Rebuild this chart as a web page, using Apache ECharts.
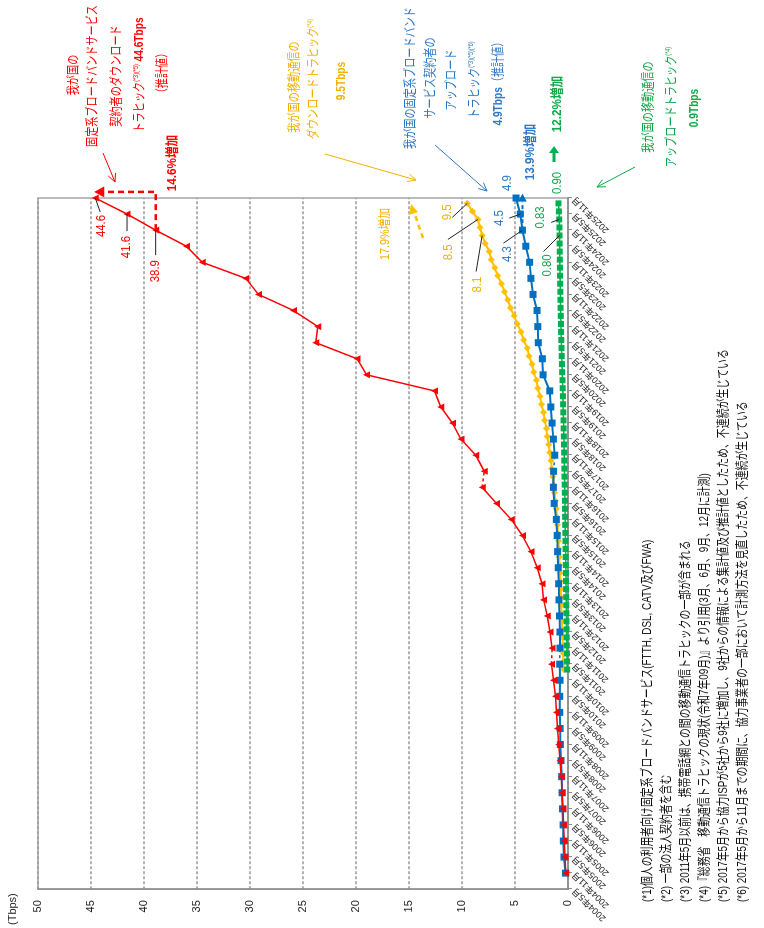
<!DOCTYPE html>
<html><head><meta charset="utf-8">
<script src="https://cdn.jsdelivr.net/npm/echarts@6/dist/echarts.min.js"></script>
<style>
html,body{margin:0;padding:0;background:#fff;overflow:hidden}
#frame{position:absolute;left:0;top:0;width:764px;height:928px;overflow:hidden;background:#fff}
#main{position:absolute;left:0;top:0;width:928px;height:764px;transform-origin:0 0;transform:translate(0,928px) rotate(-90deg)}
</style></head><body>
<div id="frame"><div id="main"></div></div>
<script>
// ---- data ----
const tickLabels = ['2004年5月','2004年11月','2005年5月','2005年11月','2006年5月','2006年11月','2007年5月','2007年11月','2008年5月','2008年11月','2009年5月','2009年11月','2010年5月','2010年11月','2011年5月','2011年11月','2012年5月','2012年11月','2013年5月','2013年11月','2014年5月','2014年11月','2015年5月','2015年11月','2016年5月','2016年11月','2017年5月','2017年11月','2018年5月','2018年11月','2019年5月','2019年11月','2020年5月','2020年11月','2021年5月','2021年11月','2022年5月','2022年11月','2023年5月','2023年11月','2024年5月','2024年11月','2025年5月','2025年11月'];
// fixed broadband, semiannual, 2004年11月 .. 2025年11月 (Tbps)
const fixedDownload = [0.22,0.28,0.36,0.42,0.48,0.56,0.64,0.76,0.87,0.98,
  1.08,1.18,1.36,1.56,1.50,1.70,1.95,2.30,2.45,2.90,
  3.50,4.30,5.35,6.75,8.10,7.90,8.70,10.10,10.90,12.00,
  12.60,19.00,19.90,23.80,23.60,25.90,29.20,30.40,34.50,36.00,
  38.90,41.60,44.60];
const fixedUpload = [0.24,0.38,0.44,0.46,0.52,0.56,0.60,0.66,0.72,0.74,
  0.78,0.78,0.75,0.78,0.76,0.76,0.80,0.85,0.88,0.92,
  0.98,1.02,1.10,1.30,1.38,1.36,1.25,1.38,1.50,1.62,
  1.72,2.35,2.42,2.80,2.85,2.92,3.30,3.50,3.62,3.98,
  4.30,4.50,4.90];
// discontinuities: first tick index of the new (dashed-joined) segment
const downloadBreaks = [15, 26];
const uploadBreaks = [15, 27];
// mobile, quarterly (3,6,9,12月), 2011年3月 .. 2025年9月 (Tbps)
const mobileDownload = [0.40,0.44,0.45,0.50,0.52,0.56,0.57,0.62,0.64,0.68,
  0.69,0.74,0.76,0.80,0.82,0.87,0.90,0.96,0.99,1.07,
  1.12,1.21,1.27,1.37,1.43,1.54,1.61,1.73,1.81,1.95,
  2.04,2.20,2.31,2.50,2.63,2.85,2.98,3.24,3.40,3.67,
  3.85,4.18,4.43,4.78,5.08,5.43,5.68,5.98,6.28,6.63,
  6.92,7.24,7.43,7.80,8.10,8.31,8.50,9.02,9.50];
const mobileUpload = [0.08,0.09,0.10,0.11,0.12,0.13,0.14,0.15,0.16,0.17,
  0.18,0.19,0.20,0.21,0.22,0.23,0.24,0.25,0.26,0.27,
  0.28,0.29,0.30,0.31,0.33,0.34,0.35,0.36,0.38,0.39,
  0.41,0.42,0.44,0.46,0.48,0.50,0.52,0.55,0.57,0.59,
  0.61,0.63,0.65,0.66,0.68,0.70,0.71,0.72,0.74,0.75,
  0.76,0.77,0.78,0.79,0.80,0.81,0.83,0.86,0.90];
const mobileStart = {year: 2011, month: 3};
const footnotes = [
  '(*1)個人の利用者向け固定系ブロードバンドサービス(FTTH, DSL, CATV及びFWA)',
  '(*2) 一部の法人契約者を含む',
  '(*3) 2011年5月以前は、携帯電話網との間の移動通信トラヒックの一部が含まれる',
  '(*4)『総務省　移動通信トラヒックの現状(令和7年09月)』より引用(3月、6月、9月、12月に計測)',
  '(*5) 2017年5月から協力ISPが5社から9社に増加し、9社からの情報による集計値及び推計値としたため、不連続が生じている',
  '(*6) 2017年5月から11月までの期間に、協力事業者の一部において計測方法を見直したため、不連続が生じている'
];

// ---- chart ----
const RED='#FF0000', YEL='#FFC000', YELT='#F2B000', BLU='#0070C0', BLUT='#2F78C4', GRN='#00B050', GRNT='#10A848';
const JP="'Liberation Sans','Noto Sans CJK JP',sans-serif";
const fx = k => k + 1;                                   // fixed series: array index -> half-year index
const mx = k => ((mobileStart.year-2004)*12 + mobileStart.month - 5 + 3*k)/6; // quarter -> half-year index

function segs(arr, breaks){
  const cuts=[1, ...breaks, arr.length+1], out=[], links=[];
  for(let s=0;s<cuts.length-1;s++){
    const seg=[]; for(let x=cuts[s]; x<cuts[s+1]; x++) seg.push([x, arr[x-1]]);
    out.push(seg);
  }
  breaks.forEach(b=>links.push([[b-1, arr[b-2]],[b, arr[b-1]]]));
  return {out, links};
}
const series=[];
series.push({type:'line', data: mobileDownload.map((v,k)=>[mx(k),v]), itemStyle:{color:YEL}, lineStyle:{color:YEL,width:2}, symbol:'diamond', symbolSize:7, z:2});
series.push({type:'line', data: mobileUpload.map((v,k)=>[mx(k),v]), itemStyle:{color:GRN}, lineStyle:{color:GRN,width:1.5}, symbol:'rect', symbolSize:6, z:3});
const up=segs(fixedUpload, uploadBreaks);
up.out.forEach(d=>series.push({type:'line', data:d, itemStyle:{color:BLU}, lineStyle:{color:BLU,width:2}, symbol:'rect', symbolSize:7, z:4}));
up.links.forEach(d=>series.push({type:'line', data:d, lineStyle:{color:BLU,width:1.5,type:[3,3]}, symbol:'none', z:4}));
const dn=segs(fixedDownload, downloadBreaks);
dn.out.forEach(d=>series.push({type:'line', data:d, itemStyle:{color:RED}, lineStyle:{color:RED,width:1.5}, symbol:'triangle', symbolSize:7, z:5}));
dn.links.forEach(d=>series.push({type:'line', data:d, lineStyle:{color:RED,width:1.5,type:[3,3]}, symbol:'none', z:5}));

const chart = echarts.init(document.getElementById('main'), null, {renderer:'canvas'});
chart.setOption({
  animation:false,
  grid:{left:35, right:198, top:38, bottom:196, show:true, borderColor:'#a6a6a6', borderWidth:1.5},
  xAxis:{type:'value', min:0, max:43, interval:1,
    axisLine:{show:true, lineStyle:{color:'#8c8c8c', width:1.5}},
    axisTick:{show:true, length:4, lineStyle:{color:'#8c8c8c'}},
    splitLine:{show:false},
    axisLabel:{rotate:45, fontSize:9, margin:6, color:'#222', fontFamily:JP, formatter:v=>tickLabels[Math.round(v)] ?? ''}},
  yAxis:{type:'value', min:0, max:50, interval:5, name:'(Tbps)', nameLocation:'end', nameGap:20,
    nameTextStyle:{align:'right', fontSize:11, color:'#222', fontFamily:JP, padding:[0,4,0,0]},
    axisLine:{show:true, lineStyle:{color:'#8c8c8c', width:1.5}}, axisTick:{show:false},
    axisLabel:{fontSize:11, margin:11, color:'#222', fontFamily:JP},
    splitLine:{show:true, lineStyle:{type:[3,2], color:'#999', width:1.5}}},
  series
});

// ---- annotations ----
const G=[];
function txt(x,y,text,color,opt={}){
  G.push({type:'text', x, y, scaleX:opt.sx ?? 0.78, z:50, style:Object.assign({text, fill:color, fontSize:opt.fs ?? 13, fontFamily:JP, fontWeight:opt.fw ?? 'normal', align:opt.align ?? 'center', verticalAlign:'middle'}, opt.rich ? {rich:opt.rich} : {})});
}
function richSet(color){
  return {n:{fill:color, fontSize:13, fontFamily:JP}, s:{fill:color, fontSize:7, fontFamily:JP, verticalAlign:'top', padding:[0,0,6,0]}, b:{fill:color, fontSize:13, fontFamily:JP, fontWeight:'bold'}};
}
function arrow(x1,y1,x2,y2,color){
  const a=Math.atan2(y2-y1,x2-x1), L=9, w=0.45;
  G.push({type:'polyline', z:50, shape:{points:[[x1,y1],[x2,y2]]}, style:{stroke:color, lineWidth:1, fill:null}});
  G.push({type:'polyline', z:50, shape:{points:[[x2-L*Math.cos(a-w), y2-L*Math.sin(a-w)],[x2,y2],[x2-L*Math.cos(a+w), y2-L*Math.sin(a+w)]]}, style:{stroke:color, lineWidth:1, fill:null}});
}
function head(x,y,ang,size,color){ // filled triangle, tip at (x,y), pointing along ang
  const b=size, w=size*0.55, c=Math.cos(ang), s=Math.sin(ang);
  G.push({type:'polygon', z:51, shape:{points:[[x,y],[x-b*c-w*s, y-b*s+w*c],[x-b*c+w*s, y-b*s-w*c]]}, style:{fill:color}});
}
const cp=(x,v)=>chart.convertToPixel({xAxisIndex:0,yAxisIndex:0},[x,v]);

// year-on-year growth arrows (from the data points through the axes)
const redArrowX = 43.38, bluArrowX = 43.15;
{
  const a=cp(41, fixedDownload[40]), b=cp(redArrowX, fixedDownload[40]), c=cp(redArrowX, fixedDownload[42]);
  G.push({type:'polyline', z:51, shape:{points:[a,b,[c[0],c[1]+8]]}, style:{stroke:RED, lineWidth:2.5, lineDash:[6,4], fill:null}});
  head(c[0], c[1]-1, -Math.PI/2, 10, RED);
  const d=cp(41, fixedUpload[40]), e=cp(bluArrowX, fixedUpload[40]);
  G.push({type:'polyline', z:51, shape:{points:[d,[e[0]-6,e[1]]]}, style:{stroke:BLU, lineWidth:2, lineDash:[4,3], fill:null}});
  head(e[0]+2, e[1], 0, 8, BLU);
}

// red block
txt(853,73,'我が国の',RED);
txt(852,92,'固定系ブロードバンドサービス',RED);
txt(852,116,'契約者のダウンロード',RED);
txt(853,139,'{n|トラヒック}{s|(*3)(*5)} {b|44.6Tbps}',RED,{rich:richSet(RED)});
txt(855,162,'（推計値）',RED);
arrow(775,103,746,115,RED);
txt(765,172,'14.6%増加',RED,{fw:'bold',sx:0.9});
// yellow block
txt(841,294,'我が国の移動通信の',YELT);
txt(849,313,'{n|ダウンロードトラヒック}{s|(*4)}',YELT,{rich:richSet(YELT)});
txt(847,341,'9.5Tbps',YELT,{fw:'bold'});
arrow(774,325,748,416,YELT);
txt(694,386,'17.9%増加',YELT,{fs:12,sx:0.9});
G.push({type:'polyline', z:50, shape:{points:[[690,423],[716,414]]}, style:{stroke:YEL, lineWidth:2.5, lineDash:[5,4], fill:null}});
G.push({type:'polygon', z:50, shape:{points:[[724,411],[713,409],[716,418]]}, style:{fill:YEL}});
// blue block
txt(850,410,'我が国の固定系ブロードバンド',BLUT);
txt(850,430,'サービス契約者の',BLUT);
txt(848,451,'アップロード',BLUT);
txt(848,474,'{n|トラヒック}{s|(*3)(*5)(*6)}',BLUT,{rich:richSet(BLUT)});
txt(847,498,'{b|4.9Tbps}{n|（推計値）}',BLUT,{rich:richSet(BLUT)});
arrow(783,435,737,487,BLUT);
txt(745,508,'4.9',BLUT,{fs:12,sx:0.95});
txt(776,530,'13.9%増加',BLUT,{fw:'bold',sx:0.9});
// green block
txt(821,648,'我が国の移動通信の',GRNT);
txt(821,671,'{n|アップロードトラヒック}{s|(*4)}',GRNT,{rich:richSet(GRNT)});
txt(820,694,'0.9Tbps',GRNT,{fw:'bold'});
arrow(761,635,741,597,GRNT);
txt(745,558,'0.90',GRNT,{fs:12,sx:0.95});
G.push({type:'polygon', z:50, shape:{points:[[766,552.5],[775,552.5],[775,549],[782,554],[775,559],[775,555.5],[766,555.5]]}, style:{fill:GRN}});
txt(824,557,'12.2%増加',GRNT,{fw:'bold',sx:0.9});
// footnotes
const fnY=[647,666,685,704,723,742];
footnotes.forEach((t,i)=>txt(26,fnY[i],t,'#111',{align:'left',sx:0.76}));

// value call-outs with leader lines (positions from the axes)
const callouts=[
  {x:fx(42), v:fixedDownload[42], d:1, c:RED, dx:-28, dy:6, lx:-14, ly:5},
  {x:fx(41), v:fixedDownload[41], d:1, c:RED, dx:-33, dy:0, lx:-17, ly:0},
  {x:fx(40), v:fixedDownload[40], d:1, c:RED, dx:-41, dy:0, lx:-25, ly:0},
  {x:mx(58), v:mobileDownload[58], d:1, c:YELT, dx:-9, dy:-20, lx:-14, ly:-15},
  {x:mx(56), v:mobileDownload[56], d:1, c:YELT, dx:-33, dy:-29, lx:-20, ly:-30},
  {x:mx(54), v:mobileDownload[54], d:1, c:YELT, dx:-49, dy:-4, lx:-36, ly:-6},
  {x:fx(41), v:fixedUpload[41], d:1, c:BLUT, dx:-4, dy:-21, lx:-4, ly:-11},
  {x:fx(40), v:fixedUpload[40], d:1, c:BLUT, dx:-24, dy:-15, lx:-13, ly:-19},
  {x:mx(56), v:mobileUpload[56], d:2, c:GRNT, dx:2, dy:-19, lx:-3, ly:-8},
  {x:mx(54), v:mobileUpload[54], d:2, c:GRNT, dx:-30, dy:-12, lx:-16, ly:-16}
];
callouts.forEach(o=>{
  const [px,py]=cp(o.x,o.v);
  G.push({type:'polyline', z:49, shape:{points:[[px,py],[px+o.lx,py+o.ly]]}, style:{stroke:'#222', lineWidth:1, fill:null}});
  txt(px+o.dx, py+o.dy, o.v.toFixed(o.d), o.c, {fs:12, sx:0.95});
});
chart.setOption({graphic:G});
</script>
</body></html>
